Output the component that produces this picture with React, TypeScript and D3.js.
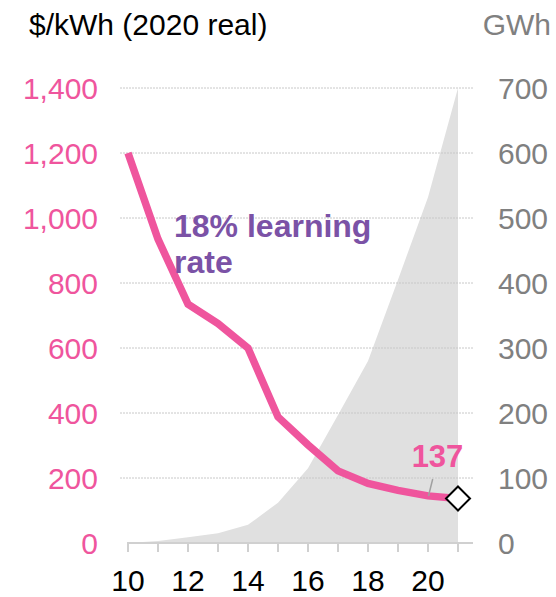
import * as d3 from 'd3';

const years = [10, 11, 12, 13, 14, 15, 16, 17, 18, 19, 20, 21];
const pricePerKWh = [1200, 935, 735, 675, 600, 388, 302, 222, 183, 162, 145, 137];
const capacityGWh = [0, 3, 9, 15, 28, 62, 115, 197, 280, 405, 532, 700];
const priceTicks = [0, 200, 400, 600, 800, 1000, 1200, 1400];
const gwhTicks = [0, 100, 200, 300, 400, 500, 600, 700];
const yearTicks = [10, 12, 14, 16, 18, 20];

const PINK = '#EF559D';
const GREY_TEXT = '#808080';

const App: React.FC = () => {
  const width = 556;
  const height = 597;

  const x = d3.scaleLinear().domain([10, 21]).range([128, 458]);
  const yL = d3.scaleLinear().domain([0, 1400]).range([543, 88]);
  const yR = d3.scaleLinear().domain([0, 700]).range([543, 88]);

  const fmt = d3.format(',');

  const area = d3
    .area<number>()
    .x((_, i) => x(years[i]))
    .y0(yR(0))
    .y1((d) => yR(d));

  const line = d3
    .line<number>()
    .x((_, i) => x(years[i]))
    .y((d) => yL(d));

  const last = pricePerKWh.length - 1;
  const dx = x(years[last]);
  const dy = yL(pricePerKWh[last]);
  const allTicks = d3.range(10, 22);
  const r = 12;

  return (
    <svg
      width={width}
      height={height}
      style={{ position: 'absolute', left: 0, top: 0, fontFamily: 'Liberation Sans, Arial, sans-serif' }}
    >
      {/* capacity area */}
      <path d={area(capacityGWh) ?? ''} fill="#E0E0E0" />

      {/* gridlines */}
      {priceTicks.slice(1).map((t) => (
        <line
          key={t}
          x1={120}
          x2={473}
          y1={yL(t)}
          y2={yL(t)}
          stroke="#C8C8C8"
          strokeWidth={1}
          strokeDasharray="2,1"
        />
      ))}

      {/* x axis */}
      <line x1={127} x2={473} y1={543} y2={543} stroke="#D0D0D0" strokeWidth={2} />
      {allTicks.map((t) => (
        <line key={t} x1={x(t)} x2={x(t)} y1={543} y2={552} stroke="#D0D0D0" strokeWidth={2} />
      ))}
      {yearTicks.map((t) => (
        <text key={t} x={x(t)} y={591} textAnchor="middle" fontSize={30} fill="#000">
          {t}
        </text>
      ))}

      {/* left axis */}
      {priceTicks.map((t) => (
        <text key={t} x={98} y={yL(t) + 10.5} textAnchor="end" fontSize={30} fill={PINK}>
          {fmt(t)}
        </text>
      ))}
      <text x={29} y={35} fontSize={30} fill="#000">
        $/kWh (2020 real)
      </text>

      {/* right axis */}
      {gwhTicks.map((t) => (
        <text key={t} x={498} y={yR(t) + 10.5} textAnchor="start" fontSize={30} fill={GREY_TEXT}>
          {t}
        </text>
      ))}
      <text x={551} y={35} textAnchor="end" fontSize={30} fill={GREY_TEXT}>
        GWh
      </text>

      {/* price line */}
      <path
        d={line(pricePerKWh) ?? ''}
        fill="none"
        stroke={PINK}
        strokeWidth={7.5}
        strokeLinejoin="miter"
      />
      <path
        d={`M${dx},${dy - r} L${dx + r},${dy} L${dx},${dy + r} L${dx - r},${dy} Z`}
        fill="#fff"
        stroke="#000"
        strokeWidth={2}
      />

      {/* annotations */}
      <line x1={432.7} y1={479} x2={428.5} y2={496} stroke="#A0A0A0" strokeWidth={1.5} />
      <text x={437.5} y={467} textAnchor="middle" fontSize={31} fontWeight="bold" fill={PINK}>
        {pricePerKWh[last]}
      </text>
      <text fontSize={32} fontWeight="bold" fill="#7B52A6">
        <tspan x={174} y={237}>18% learning</tspan>
        <tspan x={174} y={273}>rate</tspan>
      </text>
    </svg>
  );
};

export default App;
